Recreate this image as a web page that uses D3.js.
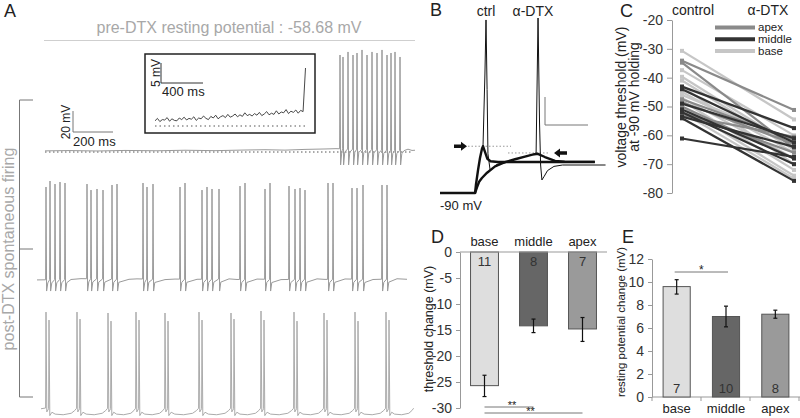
<!DOCTYPE html>
<html>
<head>
<meta charset="utf-8">
<script src="https://cdn.jsdelivr.net/npm/d3@7"></script>
<style>
    body { margin: 0; background: #fff; }
    svg { display: block; font-family: "Liberation Sans", Arial, sans-serif; }
</style>
</head>
<body>
<div id="chart"></div>
<script>

// ---------- data ----------

// panel A, time in ms, membrane potential in mV
const restPre = -58.68;

const trace1Base = [[0,-57.6],[120,-57.3],[260,-57.7],[400,-57.2],[560,-57.5],[700,-57.0],[850,-57.4],[1000,-56.8],
    [1100,-56.5],[1200,-56.9],[1300,-56.2],[1400,-55.8],[1455,-55.5],[1795,-57.4],[1815,-56.0],[1835,-57.2],[1850,-57.0]];
const trace1Spikes = [1475,1490,1515,1540,1560,1585,1610,1635,1660,1685,1710,1730,1750,1775];
const trace1Peaks  = [33.7,31.8,36.6,33.7,35.6,38.5,33.7,36.6,35.6,38.5,33.7,35.6,36.6,31.8];

const trace2Base = [[-40,-58.6],[130,-58.2],[180,-57.4],[420,-58.0],[460,-57.6],[600,-58.3],[650,-57.8],[760,-58.0],
    [920,-57.6],[960,-58.2],[1060,-57.8],[1180,-58.3],[1360,-57.6],[1400,-58.1],[1500,-57.7],[1640,-58.2],[1760,-57.5],[1810,-58.0]];
const trace2Spikes = [5,25,50,75,100, 210,230,260,290,335,360, 490,510,540, 675,700, 785,810,835,870,
    975,1000, 1100,1125, 1220,1250,1275,1300, 1415,1440, 1535,1560,1590, 1685,1710];
const trace2Peaks  = [29.9,35.6,32.7,34.6,33.7, 32.7,27.0,28.0,27.0,31.8,32.7, 33.7,29.9,32.7, 29.9,33.7, 27.0,29.9,28.0,28.0,
    30.8,33.7, 28.0,33.7, 30.8,28.0,28.9,27.0, 33.7,33.7, 28.9,28.9,31.8, 31.8,31.8];

const trace3Events = [5,160,315,455,600,770,930,1080,1245,1395,1550,1705];
const trace3Peak1  = [34.6,34.6,33.7,34.6,33.7,34.6,33.7,35.6,34.6,33.7,34.6,34.6];
const trace3Peak2  = [27.0,27.9,26.0,27.0,26.0,27.0,27.9,27.0,26.0,27.0,26.0,27.0];
// one inter-event cycle of trace 3: [fraction of interval, mV]
const trace3Cycle  = [[0,-64],[0.08,-60.8],[0.2,-62.6],[0.5,-63.2],[0.8,-61.8],[0.93,-59.2],[1,-57]];

// inset: mV above the dotted line, evenly spaced in time
const insetTrace = [1.3,1.9,1.1,1.6,1.5,2.1,1.2,1.8,1.4,1.3,2.0,1.6,2.2,1.5,1.9,1.7,2.3,1.4,2.0,1.8,2.5,1.9,1.6,2.4,2.0,
    2.7,1.8,2.3,2.6,2.1,2.9,2.2,2.5,3.0,2.3,2.8,2.4,3.3,2.6,2.9,2.5,3.1,2.7,3.4,2.6,3.0,3.6,2.8,3.2,2.9,3.8,3.0,3.5,3.3,
    4.1,3.1,3.7,3.4,4.0,3.2,3.9,3.6,14.5];

// panel B, [ms, mV]
const bCtrlSub   = [[0,-90],[16.3,-90],[16.7,-84.3],[17.7,-73.6],[18.6,-65],[19.5,-58.6],[20,-56.6],[21,-61],[22,-65.5],
    [23.5,-67.3],[27,-67.9],[72,-67.9]];
const bCtrlSpike = [[20,-56.6],[20.9,-5],[21.4,33.6],[21.9,-16],[22.3,-62],[23.3,-73.6],[24.5,-72.5],[26.5,-69.5],[31,-68.2]];
const bDtxSub    = [[16.3,-90],[17.2,-86],[18.2,-82],[19.5,-79.3],[21.9,-75.5],[25.6,-71],[30.2,-68],[34.9,-65.9],
    [39.5,-64],[43,-62.6],[45.5,-62],[48.8,-64.3],[53.5,-67.1],[58,-67.7],[72,-67.8]];
const bDtxSpike  = [[43,-62.6],[44.7,-61.4],[45.6,35],[46.3,-40],[46.8,-70],[47.4,-80.7],[48.5,-78],[50,-74],[53,-71],
    [57,-70],[77,-70]];
const bThrCtrl = -56.6, bThrDtx = -61.4;

// panel C
const cConditions = ["control", "α-DTX"];
const baseCtrl   = [-30.7,-37.4,-39.7,-41.0,-45.0,-47.0,-48.0,-50.0,-52.0,-46.0,-43.0];
const baseDtx    = [-54.5,-60.0,-64.0,-65.0,-66.0,-68.0,-72.0,-74.0,-75.0,-62.0,-70.0];
const apexCtrl   = [-34.1,-34.8,-47.5,-48.5,-50.0,-52.0,-53.0];
const apexDtx    = [-51.2,-64.5,-61.5,-63.0,-68.0,-66.0,-60.5];
const middleCtrl = [-43.1,-44.0,-49.0,-51.0,-52.0,-53.5,-54.1,-61.1];
const middleDtx  = [-57.5,-62.5,-61.0,-68.0,-70.0,-64.0,-75.8,-67.5];

// panel D
const regions = ["base", "middle", "apex"];
const dMean = [-25.7, -14.2, -14.8];
const dLo   = [-27.8, -15.5, -17.2];
const dHi   = [-23.7, -12.9, -12.6];
const dN    = [11, 8, 7];
const dTicks = [0, -5, -10, -15, -20, -25, -30];

// panel E
const eMean = [9.6, 7.0, 7.2];
const eLo   = [8.95, 6.1, 6.85];
const eHi   = [10.2, 7.9, 7.55];
const eN    = [7, 10, 8];
const eTicks = [0, 2, 4, 6, 8, 10, 12];

const regionFill = {base: "#dedede", middle: "#666", apex: "#9a9a9a"};
const lineColor  = {apex: "#8a8a8a", middle: "#333", base: "#c6c6c6"};

// ---------- drawing ----------

const svg = d3.select("#chart").append("svg")
    .attr("width", 800)
    .attr("height", 418);

svg.append("rect").attr("width", 800).attr("height", 418).attr("fill", "#fff");

function txt(x, y, s, size, opt) {
    opt = opt || {};
    let t = svg.append("text")
        .attr("x", x).attr("y", y)
        .attr("font-size", size)
        .attr("fill", opt.fill || "#222")
        .attr("text-anchor", opt.anchor || "start")
        .text(s);
    if (opt.rotate) {
        t.attr("x", 0).attr("y", 0).attr("transform", `translate(${x},${y}) rotate(-90)`);
    }
    return t;
}

function seg(x1, y1, x2, y2, color, w, dash) {
    svg.append("line")
        .attr("x1", x1).attr("y1", y1).attr("x2", x2).attr("y2", y2)
        .attr("stroke", color).attr("stroke-width", w || 1)
        .attr("stroke-dasharray", dash || null);
}

// ===== panel A =====
txt(4, 17, "A", 18);
txt(229, 33, "pre-DTX resting potential : -58.68 mV", 16, {anchor: "middle", fill: "#a8a8a8"});
seg(44, 40.5, 415, 40.5, "#cfcfcf", 1);

const xA = d3.scaleLinear().domain([0, 1850]).range([45, 415]);
function yTrace(offset) {
    return d3.scaleLinear().domain([restPre, restPre + 100]).range([152 + offset, 152 + offset - 105]);
}

function spikeTrace(base, spikes, peaks, trough) {
    let b = d3.scaleLinear().domain(base.map(d => d[0])).range(base.map(d => d[1])).clamp(true);
    let pts = base.filter(d => !spikes.some(s => d[0] > s - 3 && d[0] < s + 12));
    spikes.forEach((s, i) => {
        pts.push([s - 2, b(s - 2)], [s, peaks[i]], [s + 3, trough], [s + 9, b(s + 9) - 3]);
    });
    return pts.sort((a, c) => a[0] - c[0]);
}

function doubletTrace() {
    let pts = [[-20, -57.5]];
    trace3Events.forEach((e, i) => {
        pts.push([e - 2, -56.8], [e, trace3Peak1[i]], [e + 4, -60.5], [e + 13, -57.5], [e + 15, trace3Peak2[i]], [e + 19, -64]);
        let start = e + 19;
        let end = (i < trace3Events.length - 1 ? trace3Events[i + 1] : 1845) - 2;
        trace3Cycle.slice(1).forEach(c => pts.push([start + c[0] * (end - start), c[1]]));
    });
    return pts;
}

function drawTrace(pts, y, color) {
    svg.append("path")
        .datum(pts)
        .attr("fill", "none")
        .attr("stroke", color)
        .attr("stroke-width", 1)
        .attr("stroke-linejoin", "round")
        .attr("d", d3.line().x(d => xA(d[0])).y(d => y(d[1])));
}

// dotted resting line under the first trace
seg(45, yTrace(0)(restPre), 412, yTrace(0)(restPre), "#555", 1, "1.5,2.5");
drawTrace(spikeTrace(trace1Base, trace1Spikes, trace1Peaks, -71), yTrace(0), "#9a9a9a");
drawTrace(spikeTrace(trace2Base, trace2Spikes, trace2Peaks, -69.2), yTrace(128), "#9a9a9a");
drawTrace(doubletTrace(), yTrace(258), "#ababab");

// scale bar 20 mV / 200 ms
let sb = yTrace(0);
let sbLen = sb(restPre) - sb(restPre + 20);
seg(73, 132, 73, 132 - sbLen, "#777", 1);
seg(73, 132, 73 + xA(200) - xA(0), 132, "#777", 1);
txt(70, 122, "20 mV", 12, {rotate: true, anchor: "middle"});
txt(73, 146, "200 ms", 13);

// bracket for the post-DTX traces
seg(19.5, 100, 19.5, 397, "#777", 1);
seg(19.5, 100, 33, 100, "#777", 1);
seg(19.5, 249, 33, 249, "#777", 1);
seg(19.5, 397, 33, 397, "#777", 1);
txt(14, 249, "post-DTX spontaneous firing", 16, {rotate: true, anchor: "middle", fill: "#a8a8a8"});

// inset
svg.append("rect")
    .attr("x", 145).attr("y", 54).attr("width", 170).attr("height", 79)
    .attr("fill", "#fff").attr("stroke", "#222").attr("stroke-width", 1.5);

const xIn = d3.scaleLinear().domain([0, insetTrace.length - 1]).range([155, 305.5]);
const yIn = d3.scaleLinear().domain([0, 5]).range([126, 106]);

seg(155, yIn(0), 308, yIn(0), "#555", 1, "1.5,3");
svg.append("path")
    .datum(insetTrace)
    .attr("fill", "none")
    .attr("stroke", "#333")
    .attr("stroke-width", 0.9)
    .attr("d", d3.line().x((d, i) => xIn(i)).y(d => yIn(d)));

seg(161, 83, 161, 83 - (yIn(0) - yIn(5)), "#333", 1);
seg(161, 83, 203, 83, "#333", 1);
txt(160, 73, "5 mV", 12, {rotate: true, anchor: "middle"});
txt(162, 96, "400 ms", 13);

// ===== panel B =====
txt(430, 16, "B", 18);
txt(486, 16, "ctrl", 14, {anchor: "middle"});
txt(533, 16, "α-DTX", 14, {anchor: "middle"});
txt(440, 210, "-90 mV", 13);

const xB = d3.scaleLinear().domain([0, 20]).range([440, 483]);
const yB = d3.scaleLinear().domain([-90, -70]).range([193, 165]);
const lineB = d3.line().x(d => xB(d[0])).y(d => yB(d[1]));

// threshold dotted lines
seg(468, yB(bThrCtrl), 511, yB(bThrCtrl), "#999", 1, "1.5,2");
seg(508, yB(bThrDtx), 550, yB(bThrDtx), "#999", 1, "1.5,2");

[[bCtrlSpike, 1], [bDtxSpike, 1], [bDtxSub, 2.4], [bCtrlSub, 2.4]].forEach(([d, w]) => {
    svg.append("path")
        .datum(d)
        .attr("fill", "none")
        .attr("stroke", "#111")
        .attr("stroke-width", w)
        .attr("stroke-linejoin", "round")
        .attr("d", lineB);
});

// arrows
function arrow(x, y, dir) {
    let pts = [[0, -1.8], [7, -1.8], [7, -4.5], [13, 0], [7, 4.5], [7, 1.8], [0, 1.8]];
    svg.append("polygon")
        .attr("points", pts.map(p => [x + dir * p[0], y + p[1]].join(",")).join(" "))
        .attr("fill", "#111");
}
arrow(454, yB(bThrCtrl), 1);
arrow(567, yB(bThrDtx), -1);

// scale bar
seg(545, 125, 545, 125 - (yB(-90) - yB(-70)), "#777", 1);
seg(545, 125, 545 + xB(20) - xB(0), 125, "#777", 1);

// ===== panel C =====
txt(620, 17, "C", 18);

const xC = d3.scalePoint().domain(cConditions).range([682, 794]);
const yC = d3.scaleLinear().domain([-80, -20]).range([193, 20]);

svg.append("g")
    .attr("transform", "translate(672,0)")
    .call(d3.axisLeft(yC).tickValues([-20, -30, -40, -50, -60, -70, -80]).tickFormat(d => d).tickSize(5).tickSizeOuter(0).tickPadding(4))
    .call(g => g.selectAll("path, line").attr("stroke", "#999"))
    .call(g => g.selectAll("text").attr("font-size", 14).attr("fill", "#333").attr("font-family", null));

cConditions.forEach((c, i) => txt(xC(c) + (i === 0 ? 11 : -26), 15, c, 14, {anchor: "middle"}));

txt(626, 97, "voltage threshold (mV)", 14, {rotate: true, anchor: "middle"});
txt(639, 97, "at -90 mV holding", 14, {rotate: true, anchor: "middle"});

const cSets = [
    {g: "base", c: baseCtrl, d: baseDtx},
    {g: "apex", c: apexCtrl, d: apexDtx},
    {g: "middle", c: middleCtrl, d: middleDtx}
];
cSets.forEach(set => {
    let pairs = set.c.map((v, i) => [v, set.d[i]]);
    svg.append("g").selectAll("line")
        .data(pairs)
        .enter().append("line")
        .attr("x1", xC("control")).attr("x2", xC("α-DTX"))
        .attr("y1", d => yC(d[0])).attr("y2", d => yC(d[1]))
        .attr("stroke", lineColor[set.g])
        .attr("stroke-width", 2.2);
    let ends = pairs.flatMap(d => [[xC("control"), d[0]], [xC("α-DTX"), d[1]]]);
    svg.append("g").selectAll("rect")
        .data(ends)
        .enter().append("rect")
        .attr("x", d => d[0] - 2).attr("y", d => yC(d[1]) - 2)
        .attr("width", 4).attr("height", 4)
        .attr("fill", lineColor[set.g]);
});

// legend
["apex", "middle", "base"].forEach((g, i) => {
    let y = 27.5 + i * 11.8;
    seg(715, y, 755, y, lineColor[g], 4);
    txt(758, y + 3.5, g, 11.5);
});

// ===== panel D =====
txt(431, 243, "D", 18);

const xD = d3.scaleBand().domain(regions).range([460, 607]).paddingInner(0.43).paddingOuter(0.215);
const yD = d3.scaleLinear().domain([-30, 0]).range([408, 252]);

svg.append("g")
    .attr("transform", "translate(460,0)")
    .call(d3.axisLeft(yD).tickValues(dTicks).tickFormat(d => d).tickSize(4).tickSizeOuter(0).tickPadding(4))
    .call(g => g.selectAll("path, line").attr("stroke", "#999"))
    .call(g => g.selectAll("text").attr("font-size", 14).attr("fill", "#333").attr("font-family", null));

svg.append("g").selectAll("rect")
    .data(regions)
    .enter().append("rect")
    .attr("x", d => xD(d))
    .attr("width", xD.bandwidth())
    .attr("y", yD(0))
    .attr("height", (d, i) => yD(dMean[i]) - yD(0))
    .attr("fill", d => regionFill[d])
    .attr("stroke", "#555")
    .attr("stroke-width", 1);

seg(460, yD(0), 607, yD(0), "#999", 1);

regions.forEach((r, i) => {
    let cx = xD(r) + xD.bandwidth() / 2;
    seg(cx, yD(dLo[i]), cx, yD(dHi[i]), "#111", 1.2);
    seg(cx - 2, yD(dLo[i]), cx + 2, yD(dLo[i]), "#111", 1.2);
    seg(cx - 2, yD(dHi[i]), cx + 2, yD(dHi[i]), "#111", 1.2);
    txt(cx, 246, r, 13, {anchor: "middle"});
    txt(cx, 266, dN[i], 13, {anchor: "middle", fill: "#333"});
});

txt(433, 329, "threshold change (mV)", 12.5, {rotate: true, anchor: "middle"});

let dc = r => xD(r) + xD.bandwidth() / 2;
seg(dc("base"), 407, dc("middle"), 407, "#777", 1);
txt((dc("base") + dc("middle")) / 2 + 3, 408.5, "**", 11, {anchor: "middle"});
seg(dc("base"), 413, dc("apex"), 413, "#777", 1);
txt((dc("base") + dc("apex")) / 2 - 3, 414.5, "**", 11, {anchor: "middle"});

// ===== panel E =====
txt(622, 243, "E", 18);

const xE = d3.scaleBand().domain(regions).range([652, 800]).paddingInner(0.45).paddingOuter(0.225);
const yE = d3.scaleLinear().domain([0, 12]).range([397, 259]);

svg.append("g")
    .attr("transform", "translate(652,0)")
    .call(d3.axisLeft(yE).tickValues(eTicks).tickFormat(d => d).tickSize(4).tickSizeOuter(0).tickPadding(4))
    .call(g => g.selectAll("path, line").attr("stroke", "#999"))
    .call(g => g.selectAll("text").attr("font-size", 14).attr("fill", "#333").attr("font-family", null));

seg(652, yE(0), 800, yE(0), "#999", 1);
[652, 701, 750, 799].forEach(x => seg(x, yE(0), x, yE(0) + 4, "#999", 1));

svg.append("g").selectAll("rect")
    .data(regions)
    .enter().append("rect")
    .attr("x", d => xE(d))
    .attr("width", xE.bandwidth())
    .attr("y", (d, i) => yE(eMean[i]))
    .attr("height", (d, i) => yE(0) - yE(eMean[i]))
    .attr("fill", d => regionFill[d])
    .attr("stroke", "#555")
    .attr("stroke-width", 1);

regions.forEach((r, i) => {
    let cx = xE(r) + xE.bandwidth() / 2;
    seg(cx, yE(eLo[i]), cx, yE(eHi[i]), "#111", 1.2);
    seg(cx - 2, yE(eLo[i]), cx + 2, yE(eLo[i]), "#111", 1.2);
    seg(cx - 2, yE(eHi[i]), cx + 2, yE(eHi[i]), "#111", 1.2);
    txt(cx, 413, r, 13, {anchor: "middle"});
    txt(cx, 393, eN[i], 13, {anchor: "middle", fill: "#333"});
});

txt(625, 322, "resting potential change (mV)", 11.5, {rotate: true, anchor: "middle"});

let ec = r => xE(r) + xE.bandwidth() / 2;
seg(ec("base") - 2, 272, ec("middle") + 2, 272, "#777", 1);
txt((ec("base") + ec("middle")) / 2, 273.5, "*", 12, {anchor: "middle"});

</script>
</body>
</html>
